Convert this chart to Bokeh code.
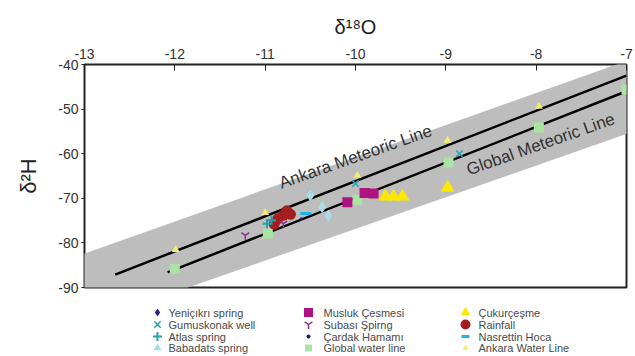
from bokeh.plotting import figure
from bokeh.layouts import column
from bokeh.models import Range1d, LinearAxis, FixedTicker
from bokeh.embed import file_html
from bokeh.resources import INLINE
from bokeh.core.properties import value

# ---- data ----
x_ticks = [-13, -12, -11, -10, -9, -8, -7]
y_ticks = [-90, -80, -70, -60, -50, -40]

band_x = [-13.5, -6.5, -6.5, -13.5]
band_y = [-86.0, -35.6, -52.0, -101.7]

ankara_line_x = [-12.66, -7.0]
ankara_line_y = [-87.1, -42.5]
global_line_x = [-12.08, -7.0]
global_line_y = [-86.6, -46.0]

yenicikri_x = [-10.53, -10.45]
yenicikri_y = [-74.3, -75.2]
gumuskonak_x = [-10.0, -8.85]
gumuskonak_y = [-66.7, -60.0]
atlas_x = [-10.98, -10.93]
atlas_y = [-75.7, -74.9]
babadats_x = [-10.5, -10.37, -10.3]
babadats_y = [-69.4, -72.0, -73.9]
musluk_x = [-10.09, -9.9, -9.8]
musluk_y = [-70.9, -68.8, -68.9]
subasi_x = [-11.22, -10.8]
subasi_y = [-78.3, -75.7]
cardak_x = [-10.6]
cardak_y = [-74.6]
global_w_x = [-12.0, -10.97, -9.98, -8.97, -7.97, -7.0]
global_w_y = [-85.8, -77.9, -70.3, -62.0, -54.1, -45.6]
cukur_x = [-9.67, -9.58, -9.48, -8.98]
cukur_y = [-69.6, -69.6, -69.6, -67.6]
rain_x = [-10.9, -10.86, -10.8, -10.76, -10.72]
rain_y = [-75.8, -74.6, -73.8, -72.8, -73.6]
nasrettin_x = [-10.55]
nasrettin_y = [-73.4]
ankara_w_x = [-11.99, -11.0, -9.98, -8.98, -7.97]
ankara_w_y = [-81.5, -73.2, -64.9, -57.0, -49.4]

legend_labels = [
    "Yeniçıkrı spring", "Gumuskonak well", "Atlas spring", "Babadats spring",
    "Musluk Çesmesi", "Subası Şpirng", "Çardak Hamamı", "Global water line",
    "Çukurçeşme", "Rainfall", "Nasrettin Hoca", "Ankara Water Line",
]

FONT = "Liberation Sans"

# (marker, size, fill, line, line_width) per series, same order as legend_labels
styles = [
    ("diamond", 10, "#2A1A8C", None, 1),
    ("x", 9, None, "#2AA5B0", 1.5),
    ("cross", 9, None, "#23A3A8", 2),
    ("triangle", 8, "#A9DDE6", None, 1),
    ("square", 10, "#B0127F", None, 1),
    ("y", 9, None, "#8E2C90", 1.5),
    ("circle", 3, "#1A1A6E", None, 1),
    ("square", 10, "#A9E4A2", None, 1),
    ("triangle", 14, "#FFE800", None, 1),
    ("circle", 11, "#A31F1F", None, 1),
    ("dash", 11, None, "#1DB3E6", 3),
    ("triangle", 8, "#F2EE6A", None, 1),
]
legend_sizes = [8, 9, 9, 8, 9, 9, 4, 7, 10, 10, 8, 6]

W = 634
FL, FR = 84, 8  # frame borders shared by both figures
p = figure(width=W, height=296, output_backend="svg", toolbar_location=None,
           x_range=Range1d(-13, -7), y_range=Range1d(-90, -40),
           x_axis_location=None, y_axis_location=None,
           min_border_left=FL, min_border_top=64, min_border_right=FR, min_border_bottom=9)
p.grid.visible = False
p.outline_line_color = "#222222"
p.outline_line_width = 2
p.background_fill_color = "white"
p.border_fill_color = "white"

xa = LinearAxis(axis_label="δ¹⁸O", ticker=FixedTicker(ticks=x_ticks))
xa.major_label_overrides = {t: str(t) for t in x_ticks}
xa.major_tick_in = 6
xa.major_tick_out = 0
xa.minor_tick_line_color = None
xa.axis_line_color = None
xa.major_tick_line_color = "#222222"
xa.major_label_text_font = FONT
xa.major_label_text_font_size = "14px"
xa.major_label_text_color = "#333333"
xa.major_label_standoff = 6
xa.axis_label_text_font = FONT
xa.axis_label_text_font_size = "20px"
xa.axis_label_text_font_style = "normal"
xa.axis_label_text_color = "#222222"
xa.axis_label_standoff = 8
p.add_layout(xa, "above")

ya = LinearAxis(axis_label="δ²H", ticker=FixedTicker(ticks=y_ticks))
ya.major_label_overrides = {t: str(t) for t in y_ticks}
ya.major_tick_in = 0
ya.major_tick_out = 3
ya.minor_tick_line_color = None
ya.axis_line_color = None
ya.major_tick_line_color = "#222222"
ya.major_label_text_font = FONT
ya.major_label_text_font_size = "14px"
ya.major_label_text_color = "#333333"
ya.major_label_standoff = 3
ya.axis_label_text_font = FONT
ya.axis_label_text_font_size = "22px"
ya.axis_label_text_font_style = "normal"
ya.axis_label_text_color = "#222222"
ya.axis_label_standoff = 14
p.add_layout(ya, "left")

p.patch(band_x, band_y, fill_color="#BDBDBD", line_color=None)
p.line(ankara_line_x, ankara_line_y, line_color="black", line_width=2.5)
p.line(global_line_x, global_line_y, line_color="black", line_width=2.5)

p.text(x=[-10.0], y=[-60.7], text=["Ankara Meteoric Line"], angle=0.34,
       text_align="center", text_baseline="middle", text_font=value(FONT),
       text_font_size="17px", text_color="#333333")
p.text(x=[-7.95], y=[-57.9], text=["Global Meteoric Line"], angle=0.34,
       text_align="center", text_baseline="middle", text_font=value(FONT),
       text_font_size="17px", text_color="#333333")


def sc(fig, xs, ys, st, size=None, marker=None):
    m, s, fc, lc, lw = st
    return fig.scatter(xs, ys, marker=marker or m, size=size or s,
                       fill_color=fc, line_color=lc, line_width=lw)


# plot order (back to front)
sc(p, global_w_x, global_w_y, styles[7])
sc(p, ankara_w_x, ankara_w_y, styles[11])
sc(p, babadats_x, babadats_y, styles[3], size=12, marker="diamond")
sc(p, musluk_x, musluk_y, styles[4])
sc(p, cukur_x, cukur_y, styles[8])
sc(p, rain_x, rain_y, styles[9])
sc(p, atlas_x, atlas_y, styles[2])
sc(p, gumuskonak_x, gumuskonak_y, styles[1])
sc(p, subasi_x, subasi_y, styles[5])
sc(p, nasrettin_x, nasrettin_y, styles[10])
sc(p, yenicikri_x, yenicikri_y, styles[0], size=9, marker="dash")
sc(p, cardak_x, cardak_y, styles[6])

# ---- legend panel below the plot (page-pixel coordinates, y downward) ----
LH = 59
lf = figure(width=W, height=LH, output_backend="svg", toolbar_location=None,
            x_range=Range1d(FL, W - FR), y_range=Range1d(LH, 0),
            x_axis_location=None, y_axis_location=None,
            min_border_left=FL, min_border_right=FR, min_border_top=0, min_border_bottom=0)
lf.grid.visible = False
lf.outline_line_color = None
lf.border_fill_color = "white"
lf.background_fill_color = "white"

col_glyph_x = [157, 308, 465]
col_text_x = [168, 323, 478]
row_y = [16, 28, 40, 51.5]

for i, (lab, st) in enumerate(zip(legend_labels, styles)):
    c, r = divmod(i, 4)
    sc(lf, [col_glyph_x[c]], [row_y[r]], st, size=legend_sizes[i])
    lf.text(x=[col_text_x[c]], y=[row_y[r]], text=[lab], text_align="left",
            text_baseline="middle", text_font=value(FONT), text_font_size="11px",
            text_color="#4A4A4A")

open("out.html", "w").write(file_html(column(p, lf, spacing=0), INLINE))
